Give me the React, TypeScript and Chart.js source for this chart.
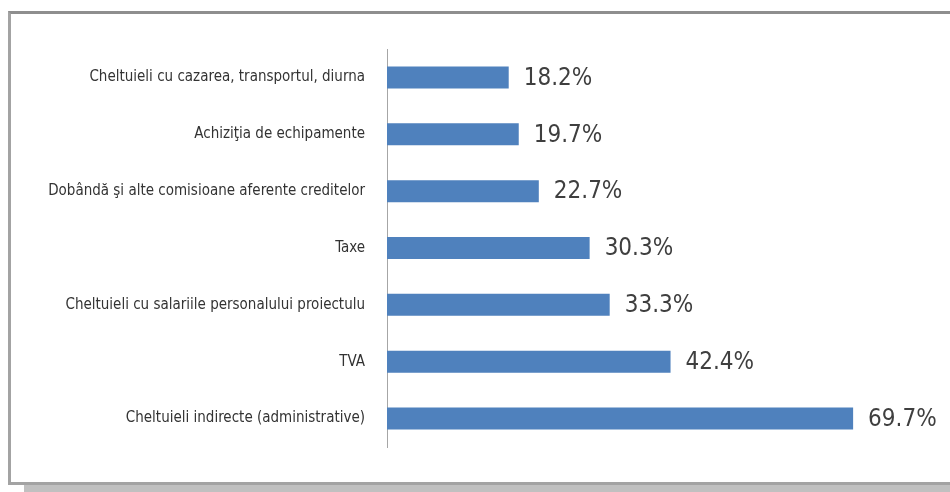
import React, { useEffect, useRef } from "react";
import { Chart, registerables } from "chart.js";

Chart.register(...registerables);

const categories: string[] = [
  "Cheltuieli cu cazarea, transportul, diurna",
  "Achiziţia de echipamente",
  "Dobândă şi alte comisioane aferente creditelor",
  "Taxe",
  "Cheltuieli cu salariile personalului proiectulu",
  "TVA",
  "Cheltuieli indirecte (administrative)",
];

const values: number[] = [18.2, 19.7, 22.7, 30.3, 33.3, 42.4, 69.7];

const valueLabels: string[] = ["18.2%", "19.7%", "22.7%", "30.3%", "33.3%", "42.4%", "69.7%"];

const FONT = "'Liberation Sans Narrow', 'Arial Narrow', 'DejaVu Sans Condensed', sans-serif";

const valueLabelPlugin = {
  id: "valueLabels",
  afterDatasetsDraw(chart: any) {
    const ctx = chart.ctx;
    const meta = chart.getDatasetMeta(0);
    ctx.save();
    ctx.font = `24px ${FONT}`;
    ctx.fillStyle = "#3f3f3f";
    ctx.textAlign = "left";
    ctx.textBaseline = "middle";
    meta.data.forEach((bar: any, i: number) => {
      ctx.fillText(valueLabels[i], bar.x + 15, bar.y + 1);
    });
    ctx.restore();
  },
};

export default function App() {
  const canvasRef = useRef<HTMLCanvasElement | null>(null);

  useEffect(() => {
    if (!canvasRef.current) return;
    const chart = new Chart(canvasRef.current, {
      type: "bar",
      data: {
        labels: categories,
        datasets: [
          {
            data: values,
            backgroundColor: "#4f81bd",
            borderWidth: 0,
            barPercentage: 0.387,
            categoryPercentage: 1,
          },
        ],
      },
      options: {
        indexAxis: "y",
        animation: false,
        responsive: false,
        devicePixelRatio: 1,
        layout: { padding: { left: 0, right: 28, top: 49, bottom: 45 } },
        plugins: {
          legend: { display: false },
          tooltip: { enabled: false },
          title: { display: false },
        },
        scales: {
          x: {
            display: false,
            min: 0,
            max: 80,
            grid: { display: false },
          },
          y: {
            grid: { display: false, drawTicks: false },
            border: { display: true, color: "#a6a6a6", width: 1 },
            ticks: {
              padding: 22,
              color: "#333333",
              font: { family: FONT, size: 15 },
            },
            afterFit(scale: any) {
              scale.width = 387;
            },
          },
        },
      },
      plugins: [valueLabelPlugin],
    });
    return () => chart.destroy();
  }, []);

  return (
    <div
      style={{
        position: "fixed",
        left: 0,
        top: 0,
        width: 950,
        height: 492,
        background: "#ffffff",
        overflow: "hidden",
      }}
    >
      <div
        style={{
          position: "absolute",
          left: 24,
          top: 485,
          width: 926,
          height: 7,
          background: "#c0c0c0",
        }}
      />
      <div
        style={{
          position: "absolute",
          left: 8,
          top: 11,
          width: 960,
          height: 468,
          borderTop: "3px solid #8e8e8e",
          borderLeft: "3px solid #a3a3a3",
          borderBottom: "3px solid #a3a3a3",
          background: "#ffffff",
        }}
      />
      <canvas
        ref={canvasRef}
        width={950}
        height={492}
        style={{ position: "absolute", left: 0, top: 0, width: 950, height: 492 }}
      />
    </div>
  );
}
